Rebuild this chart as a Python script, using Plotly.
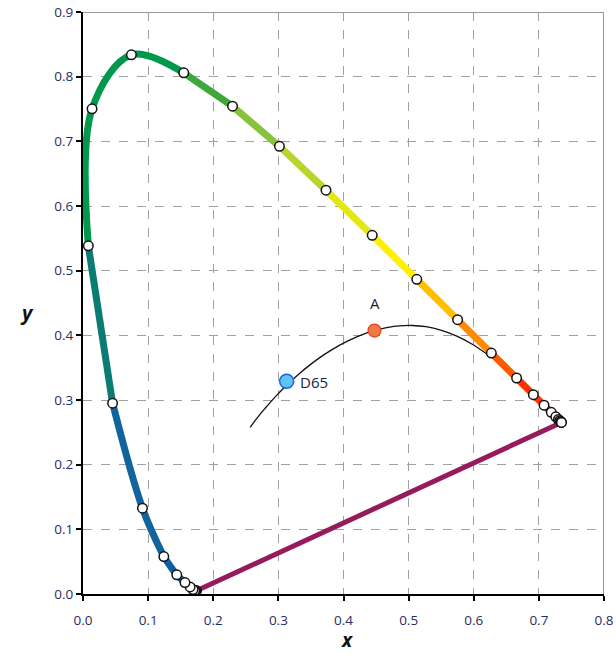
import plotly.graph_objects as go

# CIE 1931 spectral locus, 10 nm steps
wavelengths = [380, 390, 400, 410, 420, 430, 440, 450, 460, 470, 480, 490, 500,
               510, 520, 530, 540, 550, 560, 570, 580, 590, 600, 610, 620, 630,
               640, 650, 660, 670, 680, 690, 700]
locus_x = [0.1741, 0.1738, 0.1733, 0.1726, 0.1714, 0.1689, 0.1644, 0.1566, 0.1440,
           0.1241, 0.0913, 0.0454, 0.0082, 0.0139, 0.0743, 0.1547, 0.2296, 0.3016,
           0.3731, 0.4441, 0.5125, 0.5752, 0.6270, 0.6658, 0.6915, 0.7079, 0.7190,
           0.7260, 0.7300, 0.7320, 0.7334, 0.7344, 0.7347]
locus_y = [0.0050, 0.0049, 0.0048, 0.0048, 0.0051, 0.0069, 0.0109, 0.0177, 0.0297,
           0.0578, 0.1327, 0.2950, 0.5384, 0.7502, 0.8338, 0.8059, 0.7543, 0.6923,
           0.6245, 0.5547, 0.4866, 0.4242, 0.3725, 0.3340, 0.3083, 0.2920, 0.2809,
           0.2740, 0.2700, 0.2680, 0.2666, 0.2656, 0.2653]

# Planckian locus (temperature in K)
planck_T = [20000, 15000, 12000, 10000, 9000, 8000, 7000, 6500, 6000, 5500, 5000,
            4500, 4000, 3500, 3000, 2856, 2600, 2400, 2200, 2000, 1800, 1600, 1400, 1200]
planck_x = [0.2565, 0.2637, 0.2718, 0.2807, 0.2869, 0.2952, 0.3064, 0.3135, 0.3221,
            0.3325, 0.3451, 0.3608, 0.3805, 0.4053, 0.4369, 0.4476, 0.4685, 0.4862,
            0.5056, 0.5267, 0.5493, 0.5732, 0.5985, 0.6251]
planck_y = [0.2577, 0.2674, 0.2778, 0.2884, 0.2956, 0.3048, 0.3166, 0.3237, 0.3318,
            0.3411, 0.3516, 0.3636, 0.3768, 0.3907, 0.4041, 0.4074, 0.4124, 0.4147,
            0.4152, 0.4133, 0.4082, 0.3993, 0.3858, 0.3674]

# Illuminants
illum_names = ["D65", "A"]
illum_x = [0.3127, 0.4476]
illum_y = [0.3290, 0.4074]

tick_vals_x = [0.0, 0.1, 0.2, 0.3, 0.4, 0.5, 0.6, 0.7, 0.8]
tick_vals_y = [0.0, 0.1, 0.2, 0.3, 0.4, 0.5, 0.6, 0.7, 0.8, 0.9]

# colour bands along the locus: (start nm, end nm, colour)
bands = [
    (380, 470, "#0d5ea8"),
    (470, 490, "#12649f"),
    (490, 500, "#0a7c74"),
    (500, 530, "#00994c"),
    (530, 540, "#3fa83c"),
    (540, 550, "#86c23a"),
    (550, 560, "#b9d42c"),
    (560, 570, "#e6e614"),
    (570, 580, "#fff000"),
    (580, 590, "#ffbf00"),
    (590, 600, "#ff8a00"),
    (600, 610, "#ff5a00"),
    (610, 700, "#ff3300"),
]

fig = go.Figure()

# purple line
fig.add_trace(go.Scatter(x=[locus_x[0], locus_x[-1]], y=[locus_y[0], locus_y[-1]],
                         mode="lines", line=dict(color="#961b5c", width=5),
                         hoverinfo="skip", showlegend=False))

# Planckian locus
fig.add_trace(go.Scatter(x=planck_x, y=planck_y, mode="lines",
                         line=dict(color="#111111", width=1.3, shape="spline"),
                         hoverinfo="skip", showlegend=False))

# spectral locus bands
for s, e, c in bands:
    i0 = wavelengths.index(s)
    i1 = wavelengths.index(e)
    fig.add_trace(go.Scatter(x=locus_x[i0:i1 + 1], y=locus_y[i0:i1 + 1], mode="lines",
                             line=dict(color=c, width=7, shape="spline"),
                             hoverinfo="skip", showlegend=False))

# markers
fig.add_trace(go.Scatter(x=locus_x, y=locus_y, mode="markers",
                         marker=dict(size=9.5, color="white",
                                     line=dict(color="#111111", width=1.5)),
                         showlegend=False))

# illuminants
fig.add_trace(go.Scatter(x=[illum_x[0]], y=[illum_y[0]], mode="markers",
                         marker=dict(size=14, color="#5cc6f2",
                                     line=dict(color="#1f5ee8", width=1.5)),
                         showlegend=False))
fig.add_trace(go.Scatter(x=[illum_x[1]], y=[illum_y[1]], mode="markers",
                         marker=dict(size=13, color="#f07a45",
                                     line=dict(color="#e8401c", width=1.2)),
                         showlegend=False))
fig.add_annotation(x=illum_x[0], y=illum_y[0], text=illum_names[0], showarrow=False,
                   xanchor="left", yanchor="middle", xshift=11, yshift=-1,
                   font=dict(size=15, color="#1c1c3a", family="Open Sans"))
fig.add_annotation(x=illum_x[1], y=illum_y[1], text=illum_names[1], showarrow=False,
                   xanchor="center", yanchor="middle", yshift=28,
                   font=dict(size=15, color="#1c1c3a", family="Open Sans"))

# top / right border
fig.add_shape(type="line", xref="x", yref="y", x0=0, x1=0.8, y0=0.9, y1=0.9,
              line=dict(color="#999999", width=2))
fig.add_shape(type="line", xref="x", yref="y", x0=0.8, x1=0.8, y0=0, y1=0.9,
              line=dict(color="#999999", width=2))

tickfont = dict(family="Open Sans", size=13.5, color="#1f2f5f")
fig.update_xaxes(range=[0, 0.8], tickvals=tick_vals_x,
                 ticktext=[f"{v:.1f}" for v in tick_vals_x],
                 showline=True, linecolor="black", linewidth=2,
                 ticks="outside", ticklen=5, tickwidth=2, tickcolor="black",
                 showgrid=True, gridcolor="#a0a0a0", griddash="dash", gridwidth=1.2,
                 zeroline=False, tickfont=tickfont, automargin=False,
                 ticklabelstandoff=8, ticklabeloverflow="allow")
fig.update_yaxes(range=[0, 0.9], tickvals=tick_vals_y,
                 ticktext=[f"{v:.1f}" for v in tick_vals_y],
                 showline=True, linecolor="black", linewidth=2,
                 ticks="outside", ticklen=5, tickwidth=2, tickcolor="black",
                 showgrid=True, gridcolor="#a0a0a0", griddash="dash", gridwidth=1.2,
                 zeroline=False, tickfont=tickfont, automargin=False,
                 ticklabeloverflow="allow")

# axis titles (horizontal, as in the reference)
fig.add_annotation(text="<b><i>x</i></b>", xref="paper", yref="paper",
                   x=(0.406 / 0.8), y=-0.079, yanchor="middle", showarrow=False,
                   font=dict(family="Open Sans", size=19, color="#111111"))
fig.add_annotation(text="<b><i>y</i></b>", xref="paper", yref="paper",
                   x=-0.125, y=(0.436 / 0.9), showarrow=False,
                   font=dict(family="Open Sans", size=20, color="#111111"))

fig.update_layout(width=616, height=655, margin=dict(l=83, r=12, t=12, b=61),
                  plot_bgcolor="white", paper_bgcolor="white")

# remove the default page margin so the figure fills the window exactly
fig.write_html("out.html", config={"displayModeBar": False},
               post_script="document.body.style.margin='0px';document.body.style.overflow='hidden';")
